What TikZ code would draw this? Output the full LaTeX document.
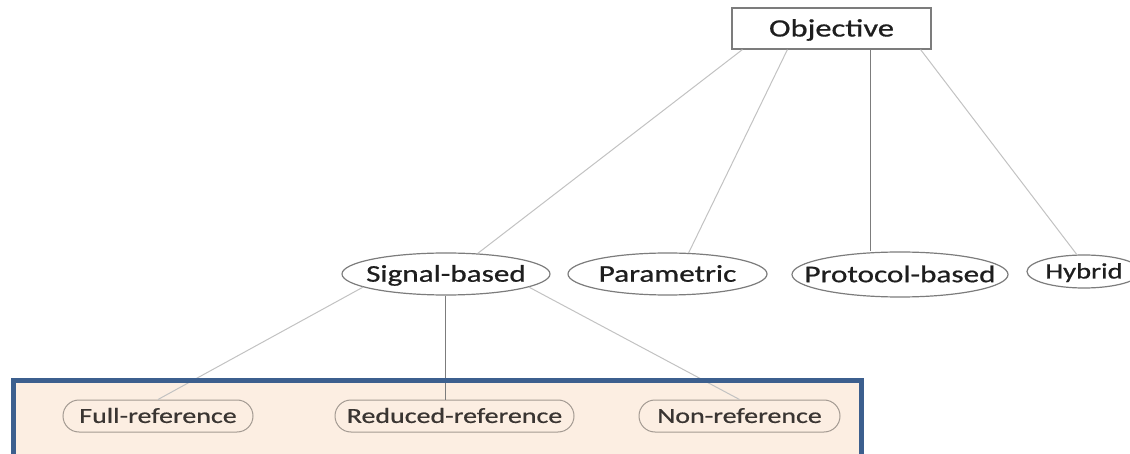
\documentclass[tikz,border=0pt]{standalone}
\usepackage{fontspec}
\usepackage{graphicx}
\setmainfont{Carlito}
\newfontfamily\labelfont{Carlito}[FakeBold=0.6]
\usetikzlibrary{shapes.geometric,shapes.misc}

\definecolor{boxfill}{HTML}{FCEEE2}
\definecolor{boxblue}{HTML}{3C5F8E}
\definecolor{inkdark}{HTML}{1E1E1E}
\definecolor{inkbrown}{HTML}{3A3532}
\definecolor{edgegray}{HTML}{7C7C7C}
\definecolor{refedge}{HTML}{A39A92}
\definecolor{linelight}{HTML}{C2C2C2}
\definecolor{linedark}{HTML}{7C7C7C}

% labels are set slightly wide; the box takes no width so the shape size is fixed
\newcommand\widelabel[1]{\makebox[0pt]{\scalebox{1.3}[1]{#1}}}

\tikzset{
  topbox/.style={rectangle, draw=edgegray, line width=1.2pt, fill=white,
    inner sep=0pt, minimum width=199pt, minimum height=41pt, text=inkdark,
    font=\labelfont\fontsize{25}{30}\selectfont, text height=16pt, text depth=0pt},
  method/.style={ellipse, draw=edgegray, line width=1.2pt, fill=white,
    inner sep=0pt, minimum height=42pt, text=inkdark,
    font=\labelfont\fontsize{24}{28}\selectfont, text height=15.4pt, text depth=0pt},
  refkind/.style={rounded rectangle, draw=refedge, line width=1pt, fill=boxfill,
    inner sep=0pt, minimum height=32pt, text=inkbrown,
    font=\labelfont\fontsize{21.5}{26}\selectfont, text height=13.8pt, text depth=0pt},
  thinlink/.style={draw=linelight, line width=1pt},
  darklink/.style={draw=linedark, line width=1pt},
}

\begin{document}
\begin{tikzpicture}[x=1pt,y=-1pt]
  \useasboundingbox (0,0) rectangle (1130,454);
  \clip (0,0) rectangle (1130,454);

  % highlighted band behind the signal-based subtypes
  \fill[boxfill] (13,380.5) rectangle (861,470);

  % root
  \node[topbox] (obj) at (831.5,28.5) {\widelabel{Objective}};

  % first level
  \node[method, minimum width=208pt] (sig) at (446,274) {\widelabel{Signal-based}};
  \node[method, minimum width=199pt] (par) at (667.5,274) {\widelabel{Parametric}};
  \node[method, minimum width=216pt, minimum height=45pt] (pro) at (900,274.5) {\widelabel{Protocol-based}};
  \node[method, minimum width=114pt, minimum height=33pt, text height=14pt,
        font=\labelfont\fontsize{22}{26}\selectfont] (hyb) at (1084,271.5) {\widelabel{Hybrid}};

  % second level
  \node[refkind, minimum width=190pt] (full) at (158,416) {\widelabel{Full-reference}};
  \node[refkind, minimum width=239pt] (red) at (454.5,416) {\widelabel{Reduced-reference}};
  \node[refkind, minimum width=201pt] (non) at (739.5,416) {\widelabel{Non-reference}};

  % links from the root
  \draw[thinlink] ([xshift=11pt]obj.south west) -- (sig.33);
  \draw[thinlink] ([xshift=56pt]obj.south west) -- (par.45);
  \draw[darklink] ([xshift=38.5pt]obj.south) -- ([xshift=38.5pt]obj.south |- pro.north);
  \draw[thinlink] ([xshift=-11pt]obj.south east) -- (hyb.113);

  % links below signal-based
  \draw[thinlink] (sig.189) -- (full.north);
  \draw[darklink] ([xshift=-1pt]sig.south) -- ([xshift=-1pt]sig.south |- red.north);
  \draw[thinlink] (sig.351) -- (non.north);

  % frame of the band
  \draw[boxblue, line width=5pt] (13,380.5) rectangle (861,470);
\end{tikzpicture}
\end{document}
